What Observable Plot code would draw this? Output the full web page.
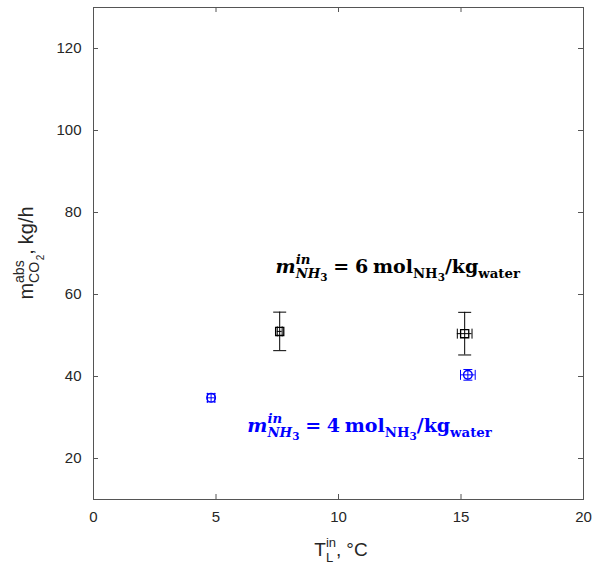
<!DOCTYPE html>
<html>
<head>
<meta charset="utf-8">
<script src="https://cdn.jsdelivr.net/npm/d3@7"></script>
<script src="https://cdn.jsdelivr.net/npm/@observablehq/plot@0.6"></script>
<style>
  html, body { margin: 0; padding: 0; background: #fff; }
</style>
</head>
<body>
<div id="chart"></div>
<script>
// Absorbed CO2 versus inlet liquid temperature, two NH3 loadings
const tempBlack    = [7.6, 15.15];   // °C
const co2Black     = [51.0, 50.45];  // kg/h
const co2ErrBlack  = [4.7, 5.2];
const tempErrBlack = [0.1, 0.3];

const tempBlue    = [4.8, 15.28];
const co2Blue     = [34.8, 40.4];
const co2ErrBlue  = [1.0, 1.3];
const tempErrBlue = [0.15, 0.3];

const xTicks = [0, 5, 10, 15, 20];
const yTicks = [20, 40, 60, 80, 100, 120];

// Annotation anchors (data units) and their loadings
const noteLoadings = [6, 4];
const noteX = [7.45, 6.3];
const noteY = [65.2, 26.4];
const noteColors = ["#000000", "#0000ff"];

const BLUE = "#0000ff";
const AXIS = "#262626";
const fontSans = "'Liberation Sans', Arial, sans-serif";
const fontMath = "'DejaVu Serif', 'Liberation Serif', serif";

const rows = (xs, ys, eys, exs) => xs.map((x, i) => ({x, y: ys[i], ey: eys[i], ex: exs[i]}));
const black = rows(tempBlack, co2Black, co2ErrBlack, tempErrBlack);
const blue = rows(tempBlue, co2Blue, co2ErrBlue, tempErrBlue);

// Cap glyphs for error bars
const hline = {draw(ctx, size) { const r = Math.sqrt(size / Math.PI); ctx.moveTo(-r, 0); ctx.lineTo(r, 0); }};
const vline = {draw(ctx, size) { const r = Math.sqrt(size / Math.PI); ctx.moveTo(0, -r); ctx.lineTo(0, r); }};

function errorMarks(data, color, capV, capH) {
  return [
    Plot.ruleX(data, {x: "x", y1: d => d.y - d.ey, y2: d => d.y + d.ey, stroke: color, strokeWidth: 1}),
    Plot.ruleY(data, {y: "y", x1: d => d.x - d.ex, x2: d => d.x + d.ex, stroke: color, strokeWidth: 1}),
    Plot.dot(data, {x: "x", y: d => d.y + d.ey, symbol: hline, r: capV, fill: "none", stroke: color, strokeWidth: 1}),
    Plot.dot(data, {x: "x", y: d => d.y - d.ey, symbol: hline, r: capV, fill: "none", stroke: color, strokeWidth: 1}),
    Plot.dot(data, {x: d => d.x + d.ex, y: "y", symbol: vline, r: capH, fill: "none", stroke: color, strokeWidth: 1}),
    Plot.dot(data, {x: d => d.x - d.ex, y: "y", symbol: vline, r: capH, fill: "none", stroke: color, strokeWidth: 1})
  ];
}

const chart = Plot.plot({
  width: 598,
  height: 566,
  marginLeft: 93,
  marginRight: 15,
  marginTop: 7,
  marginBottom: 67,
  style: {fontFamily: fontSans, fontSize: "15px", color: AXIS, background: "#fff"},
  x: {domain: [0, 20]},
  y: {domain: [10, 130]},
  marks: [
    Plot.frame({stroke: "#555", strokeWidth: 1}),
    // inward ticks on all four sides
    Plot.tickX(xTicks, {x: d => d, insetTop: 487, stroke: "#555"}),
    Plot.tickX(xTicks, {x: d => d, insetBottom: 487, stroke: "#555"}),
    Plot.tickY(yTicks, {y: d => d, insetRight: 485, stroke: "#555"}),
    Plot.tickY(yTicks, {y: d => d, insetLeft: 485, stroke: "#555"}),
    Plot.axisX({ticks: xTicks, tickSize: 0, tickPadding: 12, label: null, tickFormat: d => d, fill: AXIS}),
    Plot.axisY({ticks: yTicks, tickSize: 0, tickPadding: 12, label: null, tickFormat: d => d, fill: AXIS}),
    ...errorMarks(black, "#000", 6.5, 5),
    ...errorMarks(blue, BLUE, 4.5, 5),
    Plot.dot(black, {x: "x", y: "y", symbol: "square", r: 4.6, fill: "none", stroke: "#000", strokeWidth: 1.3}),
    Plot.dot(blue, {x: "x", y: "y", symbol: "circle", r: 4.3, fill: "none", stroke: BLUE, strokeWidth: 1.4})
  ]
});
document.getElementById("chart").append(chart);

// Rich text (super/subscripts): tspans flow one after another; a "stack"
// piece is pulled back under the piece before it, measured in place.
const svg = d3.select(chart);
function richText(parent, pieces, {x, y, anchor = "start", family, fill}) {
  const g = parent.append("g");
  const text = g.append("text").attr("font-family", family).attr("fill", fill)
    .attr("text-anchor", "start").attr("x", 0).attr("y", 0);
  let level = 0, prevW = 0, pending = 0;
  for (const p of pieces) {
    const off = p.dy || 0;
    const ts = text.append("tspan")
      .attr("dy", off - level)
      .attr("font-size", p.size)
      .attr("font-weight", p.weight || "normal")
      .attr("font-style", p.style || "normal")
      .text(p.t);
    ts.attr("dx", p.stack ? -prevW : pending + (p.gap || 0));
    level = off;
    const w = ts.node().getComputedTextLength();
    if (p.stack) {
      pending = Math.max(0, prevW - w);
      prevW = Math.max(prevW, w);
    } else {
      pending = 0;
      prevW = w;
    }
  }
  const box = text.node().getBBox();
  const shift = anchor === "middle" ? -box.x - box.width / 2 : anchor === "end" ? -box.x - box.width : -box.x;
  g.attr("transform", `translate(${x + shift},${y})`);
  return g;
}

// Axis titles
richText(svg, [
  {t: "T", size: 19},
  {t: "in", size: 13, dy: -9},
  {t: "L", size: 13, dy: 6, stack: true},
  {t: ",", size: 19},
  {t: "°C", size: 19, gap: 5}
], {x: 341, y: 556, anchor: "middle", family: fontSans, fill: AXIS});

const yTitle = svg.append("g").attr("transform", "translate(33,253) rotate(-90)");
richText(yTitle, [
  {t: "m", size: 20},
  {t: "abs", size: 14, dy: -9},
  {t: "CO", size: 14, dy: 6, stack: true},
  {t: "2", size: 10, dy: 11},
  {t: ",", size: 20},
  {t: "kg/h", size: 20, gap: 5}
], {x: 0, y: 0, anchor: "middle", family: fontSans, fill: AXIS});

// Loading annotations
const xs = chart.scale("x"), ys = chart.scale("y");
noteLoadings.forEach((n, i) => {
  const S = 19;
  const sub = S * 0.7;
  richText(svg, [
    {t: "m", size: S, weight: "bold", style: "italic"},
    {t: "in", size: sub, weight: "bold", style: "italic", dy: -S * 0.45},
    {t: "NH", size: sub, weight: "bold", style: "italic", dy: S * 0.3, stack: true},
    {t: "3", size: S * 0.55, weight: "bold", dy: S * 0.45},
    {t: "=", size: S, weight: "bold", gap: S * 0.3},
    {t: String(n), size: S, weight: "bold", gap: S * 0.3},
    {t: "mol", size: S, weight: "bold", gap: S * 0.25},
    {t: "NH", size: sub, weight: "bold", dy: S * 0.3},
    {t: "3", size: S * 0.55, weight: "bold", dy: S * 0.45},
    {t: "/kg", size: S, weight: "bold"},
    {t: "water", size: sub, weight: "bold", dy: S * 0.3}
  ], {x: xs.apply(noteX[i]), y: ys.apply(noteY[i]), family: fontMath, fill: noteColors[i]});
});
</script>
</body>
</html>
